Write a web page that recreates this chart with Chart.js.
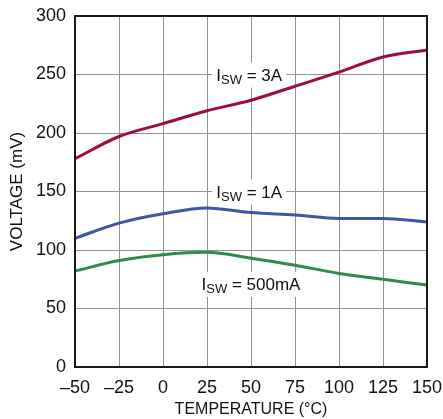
<!DOCTYPE html>
<html>
<head>
<meta charset="utf-8">
<script src="https://cdn.jsdelivr.net/npm/chart.js@4/dist/chart.umd.min.js"></script>
<style>
  html, body { margin: 0; padding: 0; background: #fff; }
  #wrap { width: 443px; height: 419px; }
</style>
</head>
<body>
<div id="wrap"><canvas id="chart" width="443" height="419"></canvas></div>
<script>
// Temperature sweep (°C) and measured switch voltage (mV) per switch current
const temperatures = [-50, -25, 0, 25, 50, 75, 100, 125, 150];
const isw3A   = [178, 197, 208, 219, 228, 240, 252, 265, 271];
const isw1A   = [110, 123, 131, 136, 132, 130, 127, 127, 124];
const isw500mA = [82, 91, 96, 98, 93, 87, 80, 75, 70];

const xTicks = [-50, -25, 0, 25, 50, 75, 100, 125, 150];
const yTicks = [0, 50, 100, 150, 200, 250, 300];

// Curve labels: subscript, remaining text, anchor in data units
const curveLabels = [
  { sub: 'SW', rest: ' = 3A',    x: 49, y: 250 },
  { sub: 'SW', rest: ' = 1A',    x: 49, y: 150 },
  { sub: 'SW', rest: ' = 500mA', x: 50, y: 71 }
];

const FONT = "'Liberation Sans Narrow', 'Arial Narrow', 'Liberation Sans', sans-serif";

const toPoints = (vals) => temperatures.map((t, i) => ({ x: t, y: vals[i] }));

const labelPlugin = {
  id: 'curveLabels',
  afterDatasetsDraw(chart) {
    const { ctx, scales: { x, y } } = chart;
    ctx.save();
    const mainFont = `17px ${FONT}`;
    const subFont = `13px ${FONT}`;
    curveLabels.forEach(l => {
      ctx.font = mainFont;
      const wI = ctx.measureText('I').width;
      const wRest = ctx.measureText(l.rest).width;
      ctx.font = subFont;
      const wSub = ctx.measureText(l.sub).width;
      const total = wI + wSub + wRest;
      const cx = x.getPixelForValue(l.x);
      const cy = y.getPixelForValue(l.y);
      const left = cx - total / 2;
      ctx.fillStyle = '#fff';
      ctx.fillRect(left - 4, cy - 12, total + 8, 25);
      ctx.fillStyle = '#111';
      ctx.textBaseline = 'alphabetic';
      ctx.textAlign = 'left';
      const base = cy + 6;
      ctx.font = mainFont;
      ctx.fillText('I', left, base);
      ctx.font = subFont;
      ctx.fillText(l.sub, left + wI, base + 3);
      ctx.font = mainFont;
      ctx.fillText(l.rest, left + wI + wSub, base);
    });
    ctx.restore();
  }
};

const framePlugin = {
  id: 'frame',
  afterDraw(chart) {
    const { ctx, chartArea: a } = chart;
    ctx.save();
    ctx.strokeStyle = '#1a1a1a';
    ctx.lineWidth = 2;
    ctx.strokeRect(a.left, a.top, a.right - a.left, a.bottom - a.top);
    ctx.restore();
  }
};

const lineDs = (data, color) => ({
  data: toPoints(data),
  borderColor: color,
  borderWidth: 3,
  pointRadius: 0,
  fill: false,
  cubicInterpolationMode: 'monotone'
});

new Chart(document.getElementById('chart'), {
  type: 'line',
  data: {
    datasets: [
      lineDs(isw3A, '#9c0d3c'),
      lineDs(isw1A, '#3d56a6'),
      lineDs(isw500mA, '#2f8a4b')
    ]
  },
  options: {
    responsive: false,
    animation: false,
    layout: { padding: { left: 0, top: 16, right: 16, bottom: 0 } },
    plugins: { legend: { display: false }, tooltip: { enabled: false } },
    scales: {
      x: {
        type: 'linear',
        min: -50, max: 150,
        afterBuildTicks: (s) => { s.ticks = xTicks.map(v => ({ value: v })); },
        afterFit: (s) => { s.height = 52; s.paddingLeft = 0; s.paddingRight = 0; },
        grid: { color: '#929292', lineWidth: 1, drawTicks: false },
        border: { display: false },
        ticks: {
          padding: 10,
          color: '#111',
          font: { family: FONT, size: 18 },
          callback: (v) => String(v).replace('-', '\u2013')
        },
        title: {
          display: true,
          text: 'TEMPERATURE (°C)',
          color: '#111',
          font: { family: FONT, size: 16 },
          padding: { top: 0, bottom: 0 }
        }
      },
      y: {
        min: 0, max: 300,
        afterBuildTicks: (s) => { s.ticks = yTicks.map(v => ({ value: v })); },
        afterFit: (s) => { s.width = 75; s.paddingTop = 0; s.paddingBottom = 0; },
        grid: { color: '#929292', lineWidth: 1, drawTicks: false },
        border: { display: false },
        ticks: {
          padding: 9,
          color: '#111',
          font: { family: FONT, size: 18 }
        },
        title: {
          display: true,
          text: 'VOLTAGE (mV)',
          color: '#111',
          font: { family: FONT, size: 17 },
          padding: { top: 7, bottom: 0 }
        }
      }
    }
  },
  plugins: [labelPlugin, framePlugin]
});
</script>
</body>
</html>
